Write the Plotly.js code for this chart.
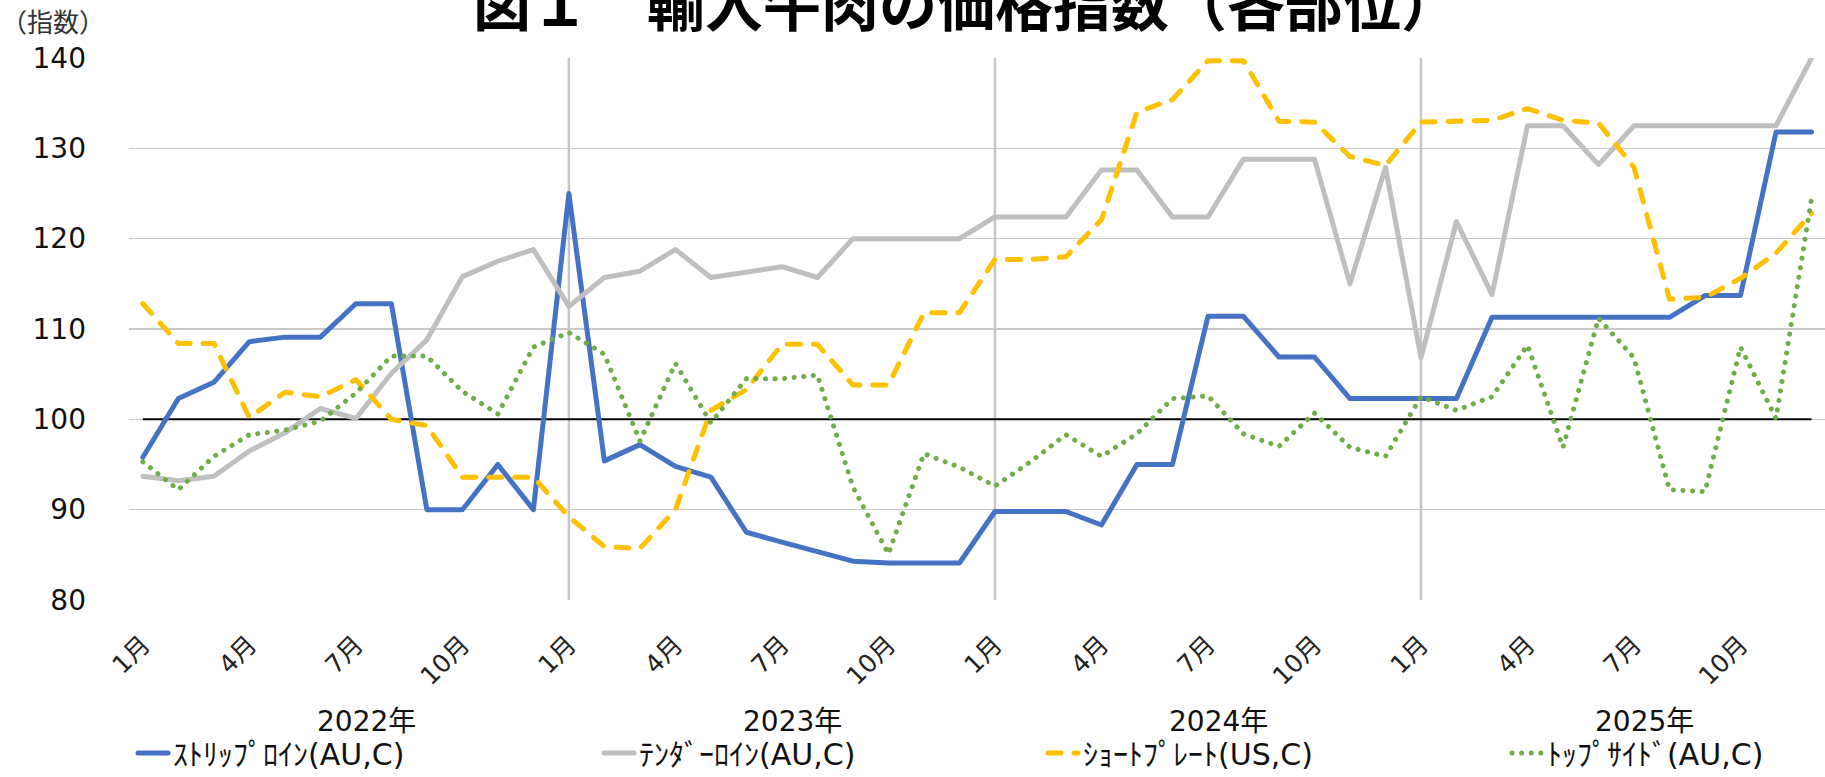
<!DOCTYPE html>
<html><head><meta charset="utf-8">
<script src="https://cdn.plot.ly/plotly-3.0.1.min.js"></script>
<style>
html,body{margin:0;padding:0;background:#fff;overflow:hidden;}
#chart{width:1825px;height:800px;}
.js-line{stroke-linecap:round !important;stroke-linejoin:round !important;}
</style></head><body><div id="chart"></div>
<script>
const years = ["2022年","2023年","2024年","2025年"];
const monthNames = ["1月","2月","3月","4月","5月","6月","7月","8月","9月","10月","11月","12月"];
const tickMonths = ["1月","4月","7月","10月"];
const seriesNames = ["ｽﾄﾘｯﾌﾟﾛｲﾝ(AU,C)","ﾃﾝﾀﾞｰﾛｲﾝ(AU,C)","ｼｮｰﾄﾌﾟﾚｰﾄ(US,C)","ﾄｯﾌﾟｻｲﾄﾞ(AU,C)"];
const yTicks = [80,90,100,110,120,130,140];
const referenceLevel = 100;

const striploin = [95.8,102.3,104.1,108.6,109.1,109.1,112.8,112.8,90.0,90.0,95.0,90.0,
  125.0,95.4,97.2,94.8,93.6,87.5,86.4,85.3,84.3,84.1,84.1,84.1,
  89.8,89.8,89.8,88.3,95.0,95.0,111.4,111.4,106.9,106.9,102.3,102.3,
  102.3,102.3,111.3,111.3,111.3,111.3,111.3,111.3,113.7,113.7,131.8,131.8];
const tenderloin = [93.7,93.2,93.7,96.5,98.5,101.2,100.1,105.1,108.8,115.8,117.5,118.8,
  112.5,115.7,116.4,118.8,115.7,116.3,116.9,115.7,120.0,120.0,120.0,120.0,
  122.4,122.4,122.4,127.6,127.6,122.4,122.4,128.8,128.8,128.8,115.0,127.9,
  106.8,121.9,113.8,132.5,132.5,128.2,132.5,132.5,132.5,132.5,132.5,140.0];
const shortPlate = [112.8,108.4,108.4,100.2,103.0,102.5,104.4,100.0,99.3,93.6,93.6,93.6,
  89.2,85.9,85.7,90.0,101.0,103.3,108.3,108.3,103.8,103.8,111.8,111.8,
  117.7,117.7,118.0,122.1,134.0,135.4,139.7,139.7,133.0,132.9,129.1,128.1,
  132.9,133.0,133.1,134.4,133.1,132.8,127.9,113.3,113.5,115.6,118.4,122.8];
const topSide = [95.3,92.2,95.9,98.3,98.8,99.8,102.9,107.0,107.0,103.1,100.6,108.0,
  109.6,107.2,97.6,106.2,99.6,104.5,104.5,104.9,92.5,85.1,96.2,94.7,
  92.6,95.3,98.3,95.9,98.4,102.3,102.6,98.4,97.0,100.7,96.9,95.9,
  102.5,101.0,102.5,108.2,96.9,111.2,106.8,92.2,92.0,108.0,100.1,124.4];

const categories = [];
years.forEach(y => monthNames.forEach(m => categories.push(y + m)));
const tickVals = [], tickText = [];
years.forEach(y => tickMonths.forEach(m => { tickVals.push(y + m); tickText.push(m); }));

// plot area in pixels
const FIG_H = 800;
const L = 129, T = 58, W = 1825 - 129, H = 600 - 58;
const py = p => (600 - p) / H;
const px = p => (p - L) / W;

const seriesValues = [striploin, tenderloin, shortPlate, topSide];
const styles = [
  {color:'#4472C4', width:5, dash:'solid'},
  {color:'#BFBFBF', width:5, dash:'solid'},
  {color:'#FFC000', width:5, dash:'13px,13px'},
  {color:'#70AD47', width:5, dash:'0.1px,9.5px'}
];
const legendIds = ['legend','legend2','legend3','legend4'];
const legendTextStarts = [180, 646, 1090, 1554];
const traces = seriesValues.map((vals, i) => ({
  type:'scatter', mode:'lines', x:categories, y:vals, name:seriesNames[i],
  line:styles[i], hoverinfo:'skip', legend:legendIds[i]
}));

const shapes = [];
years.slice(1).forEach(y => shapes.push({type:'line', layer:'between', xref:'x', yref:'paper',
  x0:y + monthNames[0], x1:y + monthNames[0], y0:0, y1:1, line:{color:'#C6C6C6', width:2.5}}));
shapes.push({type:'line', layer:'between', xref:'x', yref:'y', x0:categories[0], x1:categories[categories.length-1],
  y0:referenceLevel, y1:referenceLevel, line:{color:'#000', width:2}});

const annotations = years.map((y, i) => ({
  xref:'x', yref:'paper', x:i*12 + 6.3, y:py(721), xanchor:'center', yanchor:'middle',
  text:y, showarrow:false, font:{family:'DejaVu Sans, Noto Sans CJK JP', size:28, color:'#111'}
}));
annotations.push({xref:'paper', yref:'paper', x:px(-1), y:py(21), xanchor:'left', yanchor:'middle',
  text:'（指数）', showarrow:false, font:{family:'Noto Sans CJK JP', size:26, color:'#333'}});
annotations.push({xref:'paper', yref:'paper', x:px(966), y:py(1), xanchor:'center', yanchor:'middle',
  text:'<b>図１　輸入牛肉の価格指数（各部位）</b>', showarrow:false,
  font:{family:'Noto Sans CJK JP', size:58, color:'#000'}});

const layout = {
  width:1825, height:FIG_H,
  margin:{l:L, r:0, t:T, b:FIG_H-600, pad:0},
  paper_bgcolor:'#fff', plot_bgcolor:'#fff',
  showlegend:true,
  xaxis:{type:'category', categoryorder:'array', categoryarray:categories, range:[-0.39, 47.38],
    tickmode:'array', tickvals:tickVals, ticktext:tickText, tickangle:-45,
    showgrid:false, zeroline:false, showline:false, ticks:'',
    tickfont:{family:'DejaVu Sans, Noto Sans CJK JP', size:25, color:'#222'}, ticklabelstandoff:24, automargin:false},
  yaxis:{range:[80,140], tickmode:'array', tickvals:yTicks, showgrid:true, gridcolor:'#C8C8C8', gridwidth:1.6,
    zeroline:false, showline:false, ticks:'',
    tickfont:{family:'DejaVu Sans', size:28, color:'#111'}, ticklabelstandoff:42, automargin:false},
  shapes:shapes, annotations:annotations
};
legendIds.forEach((id, i) => {
  layout[id] = {orientation:'h', x:px(legendTextStarts[i] - 47), xanchor:'left', y:py(753), yanchor:'middle',
    font:{family:'DejaVu Sans, Noto Sans CJK JP', size:30, color:'#111'}, bgcolor:'rgba(0,0,0,0)'};
});
Plotly.newPlot('chart', traces, layout, {displayModeBar:false, staticPlot:true});
</script></body></html>
